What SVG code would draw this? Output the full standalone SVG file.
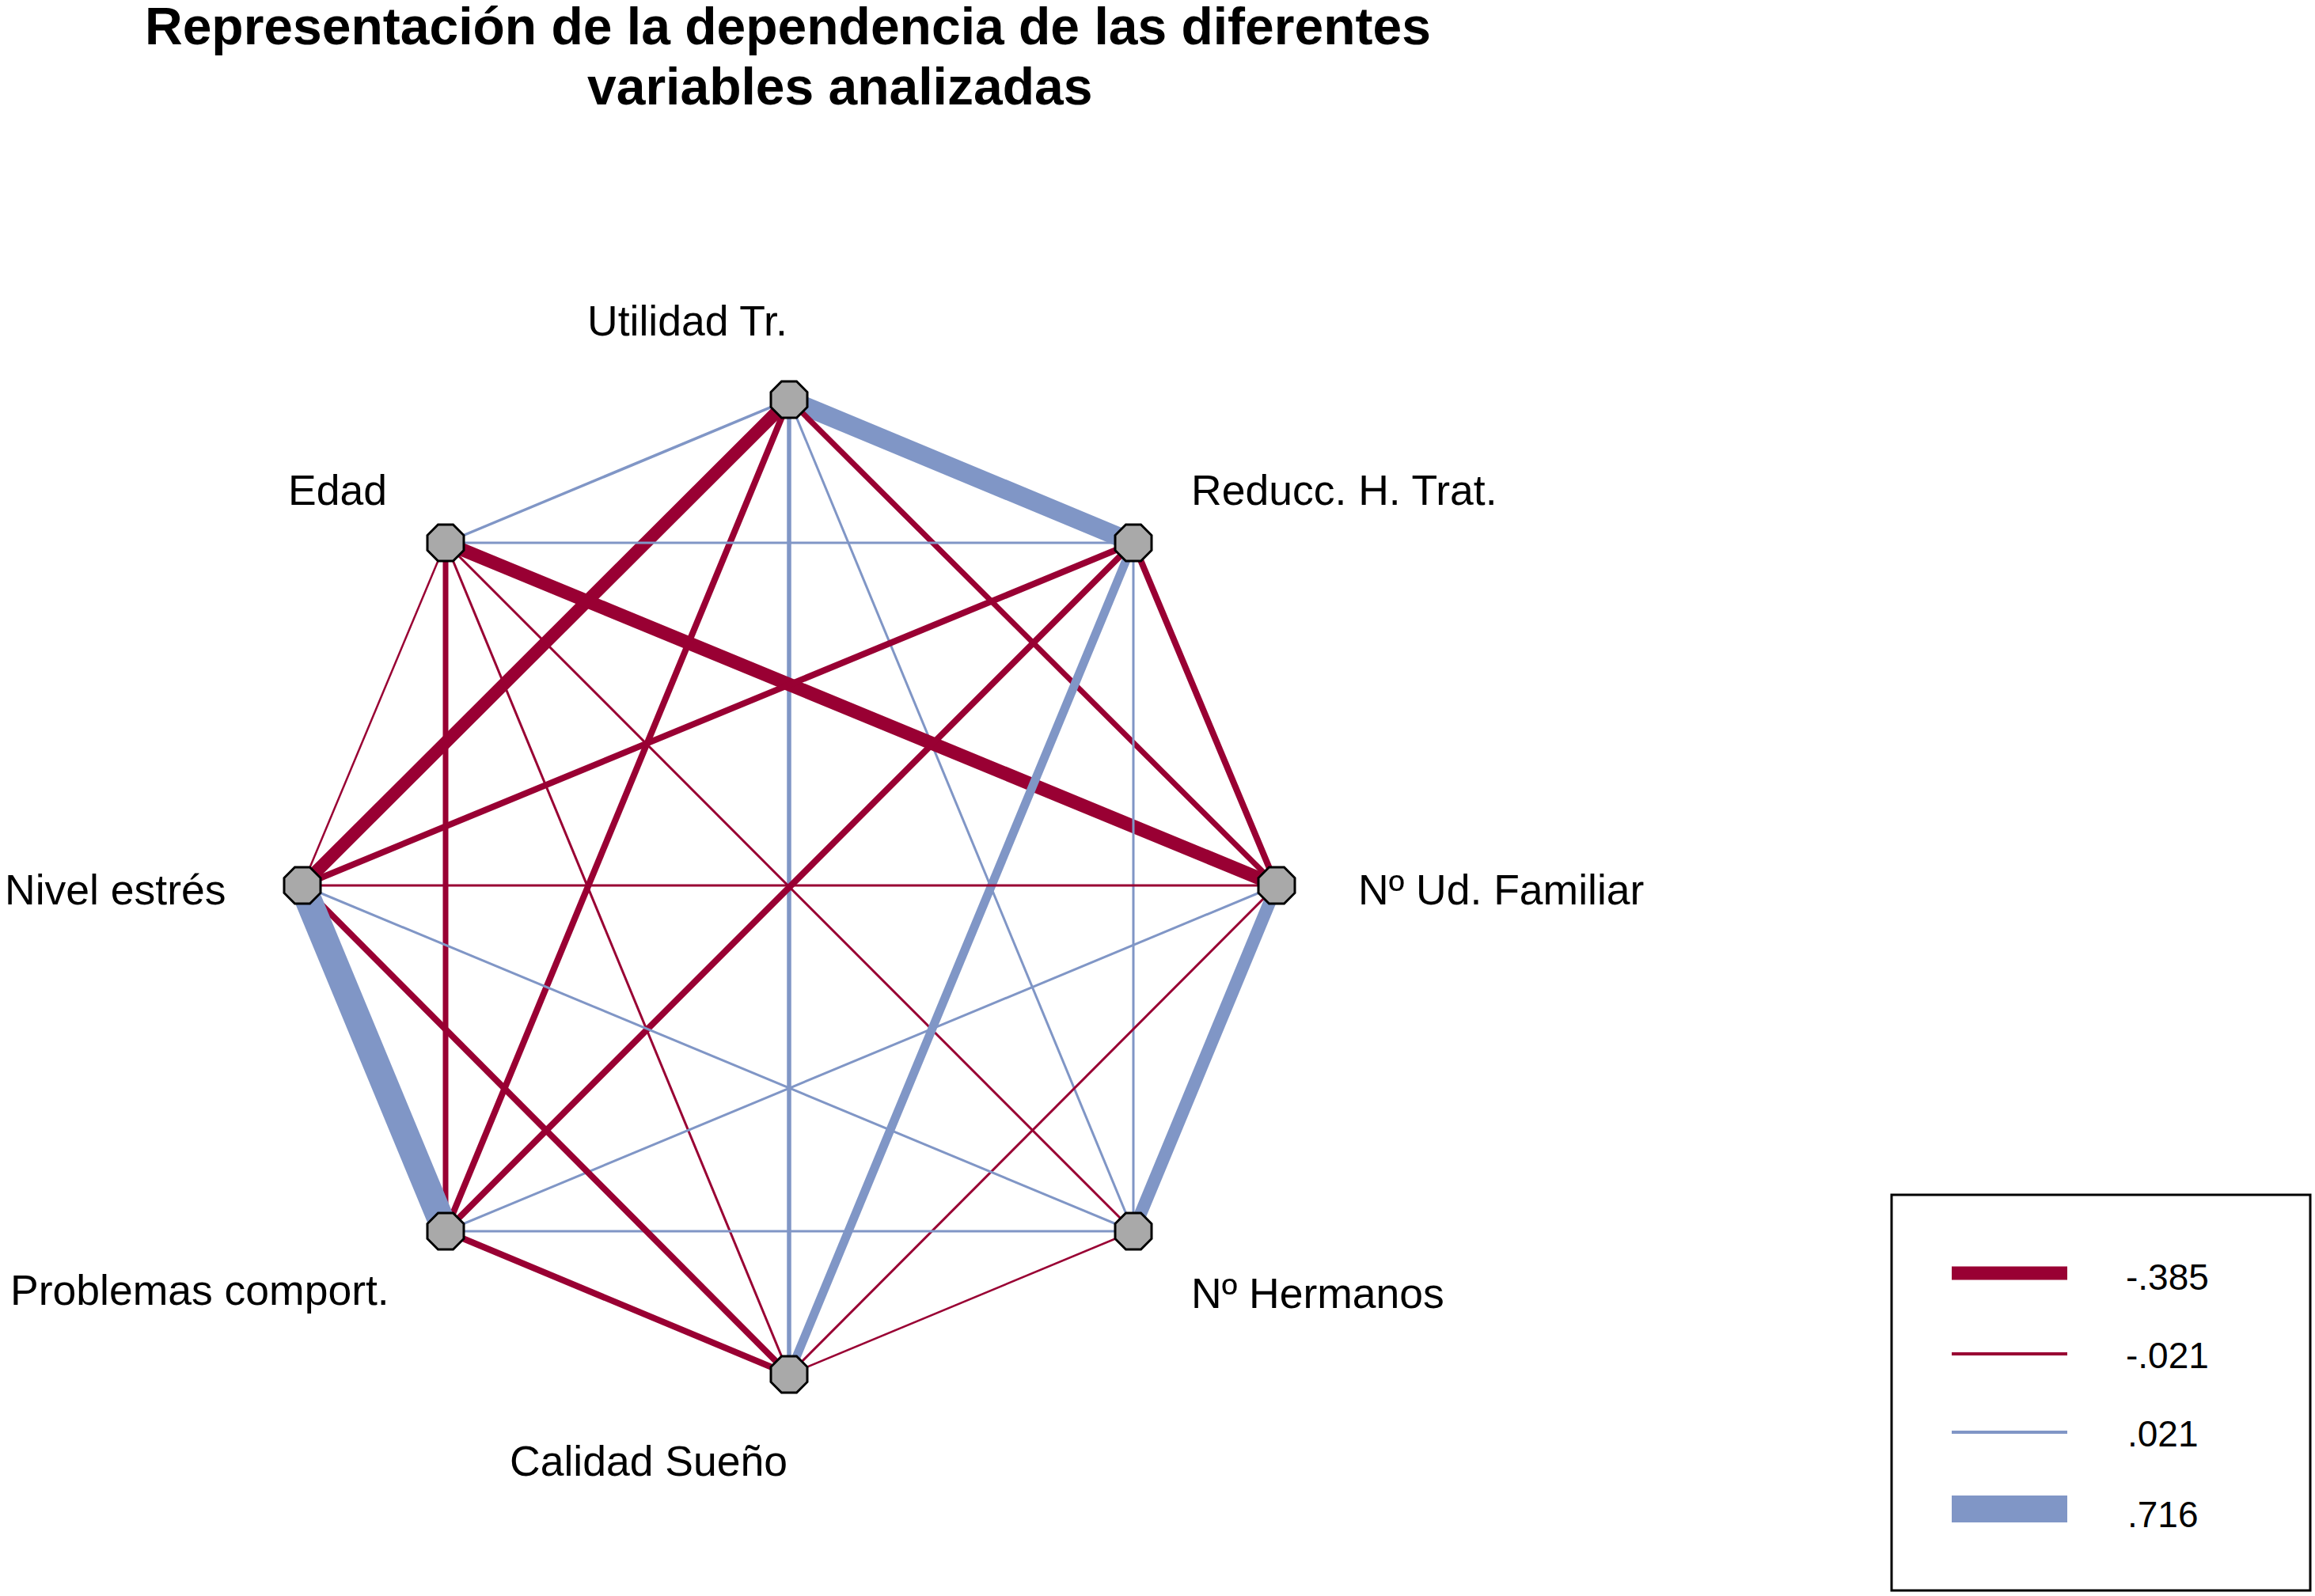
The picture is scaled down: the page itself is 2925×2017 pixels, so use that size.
<svg xmlns="http://www.w3.org/2000/svg" width="2925" height="2017" viewBox="0 0 2925 2017">
<style>
text{font-family:"Liberation Sans",Arial,sans-serif;fill:#000}
.title{font-size:66px;font-weight:bold}
.lbl{font-size:53.5px}
.leg{font-size:46px}
.r{stroke:#990033;fill:none;stroke-linecap:butt}
.b{stroke:#8096c6;fill:none;stroke-linecap:butt}
.node{fill:#a9a9a9;stroke:#000;stroke-width:3}
</style>
<defs>
<polygon id="oct" points="-9.5,-23 9.5,-23 23,-9.5 23,9.5 9.5,23 -9.5,23 -23,9.5 -23,-9.5"/>
</defs>
<rect width="2925" height="2017" fill="#fff"/>
<text class="title" x="183" y="56">Representación de la dependencia de las diferentes</text>
<text class="title" x="742" y="132">variables analizadas</text>
<g id="connectors">
<line class="b" x1="997" y1="505" x2="563" y2="686" stroke-width="3.5"/>
<line class="b" x1="997" y1="505" x2="1432" y2="686" stroke-width="24"/>
<line class="r" x1="997" y1="505" x2="1613" y2="1119" stroke-width="7"/>
<line class="b" x1="997" y1="505" x2="1432" y2="1556" stroke-width="3"/>
<line class="b" x1="997" y1="505" x2="997" y2="1737" stroke-width="5.5"/>
<line class="r" x1="997" y1="505" x2="563" y2="1556" stroke-width="8"/>
<line class="r" x1="997" y1="505" x2="382" y2="1119" stroke-width="16"/>
<line class="b" x1="563" y1="686" x2="1432" y2="686" stroke-width="3"/>
<line class="r" x1="563" y1="686" x2="1613" y2="1119" stroke-width="17"/>
<line class="r" x1="563" y1="686" x2="1432" y2="1556" stroke-width="3"/>
<line class="r" x1="563" y1="686" x2="997" y2="1737" stroke-width="3"/>
<line class="r" x1="563" y1="686" x2="563" y2="1556" stroke-width="7"/>
<line class="r" x1="563" y1="686" x2="382" y2="1119" stroke-width="2.5"/>
<line class="r" x1="1432" y1="686" x2="1613" y2="1119" stroke-width="8"/>
<line class="b" x1="1432" y1="686" x2="1432" y2="1556" stroke-width="3"/>
<line class="b" x1="1432" y1="686" x2="997" y2="1737" stroke-width="11"/>
<line class="r" x1="1432" y1="686" x2="563" y2="1556" stroke-width="8"/>
<line class="r" x1="1432" y1="686" x2="382" y2="1119" stroke-width="8"/>
<line class="b" x1="1613" y1="1119" x2="1432" y2="1556" stroke-width="16"/>
<line class="r" x1="1613" y1="1119" x2="997" y2="1737" stroke-width="3"/>
<line class="b" x1="1613" y1="1119" x2="563" y2="1556" stroke-width="3"/>
<line class="r" x1="1613" y1="1119" x2="382" y2="1119" stroke-width="3"/>
<line class="r" x1="1432" y1="1556" x2="997" y2="1737" stroke-width="2.5"/>
<line class="b" x1="1432" y1="1556" x2="563" y2="1556" stroke-width="3"/>
<line class="b" x1="1432" y1="1556" x2="382" y2="1119" stroke-width="3"/>
<line class="r" x1="997" y1="1737" x2="563" y2="1556" stroke-width="8"/>
<line class="r" x1="997" y1="1737" x2="382" y2="1119" stroke-width="8"/>
<line class="b" x1="563" y1="1556" x2="382" y2="1119" stroke-width="34"/>
</g>
<g id="node-utilidad"><use href="#oct" class="node" x="997" y="505"/><text class="lbl" x="742" y="424">Utilidad Tr.</text></g>
<g id="node-edad"><use href="#oct" class="node" x="563" y="686"/><text class="lbl" x="364" y="638">Edad</text></g>
<g id="node-reducc"><use href="#oct" class="node" x="1432" y="686"/><text class="lbl" x="1505" y="638">Reducc. H. Trat.</text></g>
<g id="node-nivel"><use href="#oct" class="node" x="382" y="1119"/><text class="lbl" x="6" y="1143">Nivel estrés</text></g>
<g id="node-familiar"><use href="#oct" class="node" x="1613" y="1119"/><text class="lbl" x="1716" y="1143">Nº Ud. Familiar</text></g>
<g id="node-problemas"><use href="#oct" class="node" x="563" y="1556"/><text class="lbl" x="13" y="1649">Problemas comport.</text></g>
<g id="node-hermanos"><use href="#oct" class="node" x="1432" y="1556"/><text class="lbl" x="1505" y="1653">Nº Hermanos</text></g>
<g id="node-calidad"><use href="#oct" class="node" x="997" y="1737"/><text class="lbl" x="644" y="1865">Calidad Sueño</text></g>
<g id="legend">
<rect x="2390" y="1510" width="529" height="500" fill="none" stroke="#000" stroke-width="3"/>
<line class="r" x1="2466" y1="1609" x2="2612" y2="1609" stroke-width="17"/>
<line class="r" x1="2466" y1="1711" x2="2612" y2="1711" stroke-width="4"/>
<line class="b" x1="2466" y1="1810" x2="2612" y2="1810" stroke-width="4"/>
<line class="b" x1="2466" y1="1907" x2="2612" y2="1907" stroke-width="34"/>
<text class="leg" x="2686" y="1630">-.385</text>
<text class="leg" x="2686" y="1729">-.021</text>
<text class="leg" x="2688" y="1828">.021</text>
<text class="leg" x="2688" y="1930">.716</text>
</g>
</svg>
